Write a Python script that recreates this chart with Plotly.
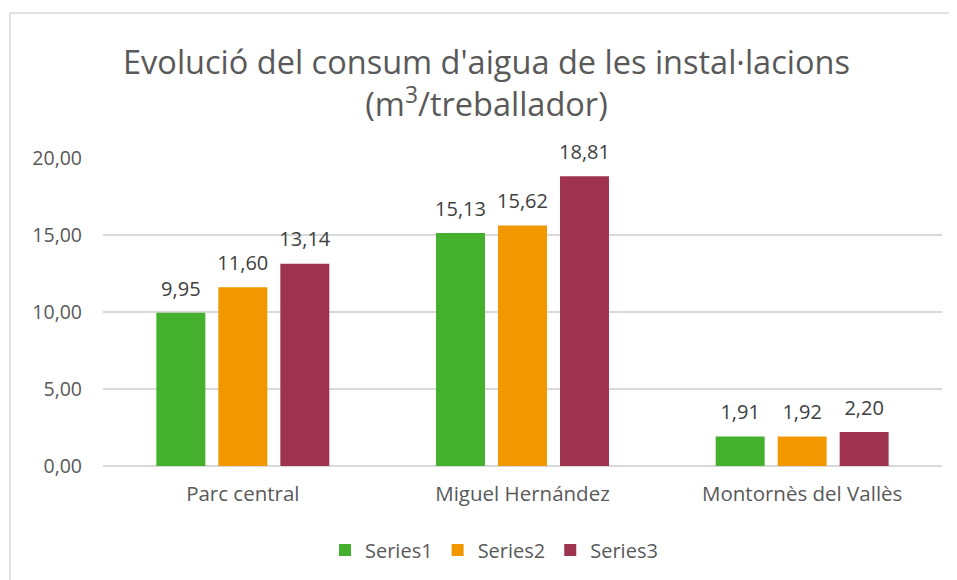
import plotly.graph_objects as go

categories = ["Parc central", "Miguel Hernández", "Montornès del Vallès"]
series_names = ["Series1", "Series2", "Series3"]
series1 = [9.95, 15.13, 1.91]
series2 = [11.60, 15.62, 1.92]
series3 = [13.14, 18.81, 2.20]
colors = ["#45B02D", "#F19700", "#9F324F"]
tick_vals = [0, 5, 10, 15, 20]
tick_text = ["0,00", "5,00", "10,00", "15,00", "20,00"]

FONT = "Open Sans"
# page body has an 8px default margin: positions below are in figure pixels
OFF = 8
W, H = 957, 580
L, R, T, B = 103 - OFF, W - (942 - OFF), 158 - OFF, H - (466 - OFF)
PW, PH = W - L - R, H - T - B

fig = go.Figure()
for i, (name, vals, col) in enumerate(zip(series_names, [series1, series2, series3], colors)):
    fig.add_trace(go.Bar(
        x=categories, y=vals, name=name,
        marker=dict(color=col, line=dict(width=0)),
        offsetgroup=str(i), alignmentgroup="a",
    ))
for i, vals in enumerate([series1, series2, series3]):
    fig.add_trace(go.Scatter(
        x=categories, y=vals, mode="markers+text", showlegend=False, hoverinfo="skip",
        marker=dict(size=18, color="rgba(0,0,0,0)"),
        text=[f"{v:.2f}".replace(".", ",") for v in vals],
        textposition="top center", cliponaxis=False,
        textfont=dict(family=FONT, size=20, color="#404040"),
        offsetgroup=str(i), alignmentgroup="a",
    ))

fig.update_layout(
    width=W, height=H,
    paper_bgcolor="white", plot_bgcolor="white",
    margin=dict(l=L, r=R, t=T, b=B),
    barmode="group", bargap=0.335, bargroupgap=0.21,
    scattermode="group", scattergap=0.335,
    title=dict(
        text="Evolució del consum d'aigua de les instal·lacions<br>(m<sup>3</sup>/treballador)",
        x=0.5, xanchor="center", y=1 - (74 - OFF) / H, yanchor="middle", yref="container",
        font=dict(family=FONT, size=32.5, color="#595959"),
    ),
    font=dict(family=FONT, color="#595959"),
    showlegend=True,
    legend=dict(
        orientation="h", x=(494 - OFF) / W, xanchor="center", xref="container",
        y=1 - (550 - OFF) / H, yanchor="middle", yref="container",
        font=dict(family=FONT, size=20, color="#595959"),
        traceorder="normal", itemwidth=30,
    ),
    xaxis=dict(
        showgrid=False, showline=False, ticks="", automargin=False,
        ticklabelstandoff=13,
        tickfont=dict(family=FONT, size=20.5, color="#595959"),
    ),
    yaxis=dict(
        range=[0, 20], tickvals=tick_vals, ticktext=tick_text, automargin=False,
        showgrid=True, gridcolor="#D9D9D9", gridwidth=1.5,
        zeroline=True, zerolinecolor="#D9D9D9", zerolinewidth=1.5,
        showline=False, ticks="", ticklabelstandoff=20,
        tickfont=dict(family=FONT, size=19.5, color="#595959"),
    ),
    shapes=[dict(
        type="rect", xref="paper", yref="paper",
        x0=(10 - OFF - L) / PW, x1=(980 - OFF - L) / PW,
        y0=(H + 20 - (H - B)) / -PH, y1=((H - B) - (13 - OFF)) / PH,
        line=dict(color="#D9D9D9", width=1.5), fillcolor="rgba(0,0,0,0)", layer="below",
    )],
)

fig.write_html("out.html")
